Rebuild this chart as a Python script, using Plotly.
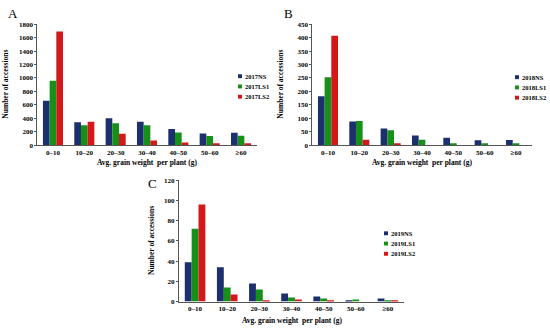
import plotly.graph_objects as go

categories = ["0–10", "10–20", "20–30", "30–40", "40–50", "50–60", "≥60"]

a_names = ["2017NS", "2017LS1", "2017LS2"]
a_ns = [660, 340, 400, 350, 240, 175, 185]
a_ls1 = [960, 295, 325, 295, 190, 135, 140]
a_ls2 = [1690, 350, 170, 70, 40, 15, 20]

b_names = ["2018NS", "2018LS1", "2018LS2"]
b_ns = [182, 88, 62, 36, 28, 18, 19]
b_ls1 = [253, 90, 56, 20, 5, 5, 5]
b_ls2 = [407, 20, 4, 0, 0, 0, 0]

c_names = ["2019NS", "2019LS1", "2019LS2"]
c_ns = [39, 34, 18, 8, 5, 1, 3]
c_ls1 = [72, 14, 12, 4, 3, 2, 1]
c_ls2 = [96, 7, 1, 2, 1, 0, 1]

colors = ["#1c2f6e", "#17901a", "#d21818"]
FONT = "Liberation Serif"
W, H = 550, 330

fig = go.Figure()

panels = [
    dict(names=a_names, data=[a_ns, a_ls1, a_ls2], x="x", y="y",
         px=(37.3, 256.7), py=(20.7, 144.7), yr=[0, 1800], dt=200,
         label="A", lab=(13, 10), leg=(240, 74), ytitle_x=6, xtitle_y=162),
    dict(names=b_names, data=[b_ns, b_ls1, b_ls2], x="x2", y="y2",
         px=(312.3, 531.7), py=(20.7, 144.7), yr=[0, 450], dt=50,
         label="B", lab=(288, 10), leg=(517, 75), ytitle_x=281, xtitle_y=162),
    dict(names=c_names, data=[c_ns, c_ls1, c_ls2], x="x3", y="y3",
         px=(179, 404), py=(180.7, 305), yr=[0, 120], dt=20,
         label="C", lab=(152, 184), leg=(386, 235), ytitle_x=152, xtitle_y=324),
]

layout = dict(
    width=W, height=H, margin=dict(l=0, r=0, t=0, b=0),
    paper_bgcolor="white", plot_bgcolor="white",
    barmode="group", bargap=0.36, bargroupgap=0,
    showlegend=False, font=dict(family=FONT, size=7, color="black"),
)
annotations = []
shapes = []
for i, p in enumerate(panels):
    for k in range(3):
        fig.add_trace(go.Bar(x=categories, y=p["data"][k], name=p["names"][k],
                             marker=dict(color=colors[k], line=dict(width=0)),
                             xaxis=p["x"], yaxis=p["y"]))
    suffix = "" if i == 0 else str(i + 1)
    xd = [p["px"][0] / W, p["px"][1] / W]
    yd = [1 - p["py"][1] / H, 1 - p["py"][0] / H]
    layout["xaxis" + suffix] = dict(
        domain=xd, anchor=p["y"], showline=True, linecolor="#555", linewidth=1,
        ticks="", tickcolor="#555",
        tickfont=dict(family=FONT, size=7, color="black"),
        tickprefix="<b>", ticksuffix="</b>", fixedrange=True,
    )
    layout["yaxis" + suffix] = dict(
        domain=yd, anchor=p["x"], range=p["yr"], dtick=p["dt"],
        showline=True, linecolor="#555", linewidth=1, showgrid=False,
        ticks="outside", ticklen=2, tickcolor="#555", zeroline=False,
        tickfont=dict(family=FONT, size=7, color="black"),
        tickprefix="<b>", ticksuffix="</b>",
    )
    # x title
    annotations.append(dict(
        text="<b>Avg. grain weight  per plant (g)</b>",
        x=(p["px"][0] + p["px"][1]) / 2 / W, y=1 - p["xtitle_y"] / H,
        xref="paper", yref="paper", showarrow=False,
        font=dict(family=FONT, size=7.5), xanchor="center", yanchor="middle"))
    # y title
    annotations.append(dict(
        text="<b>Number of accessions</b>", x=p["ytitle_x"] / W,
        y=1 - (p["py"][0] + p["py"][1]) / 2 / H, xref="paper", yref="paper",
        textangle=-90, showarrow=False, font=dict(family=FONT, size=7.5),
        xanchor="center", yanchor="middle"))
    # panel label
    annotations.append(dict(
        text=p["label"], x=p["lab"][0] / W, y=1 - p["lab"][1] / H,
        xref="paper", yref="paper", showarrow=False,
        font=dict(family=FONT, size=13), xanchor="center", yanchor="middle"))
    # legend
    for k in range(3):
        cx = p["leg"][0]
        cy = p["leg"][1] + 10.5 * k
        shapes.append(dict(type="rect", xref="paper", yref="paper",
                           x0=(cx - 2) / W, x1=(cx + 2) / W,
                           y0=1 - (cy + 2) / H, y1=1 - (cy - 2) / H,
                           fillcolor=colors[k], line=dict(width=0)))
        annotations.append(dict(
            text=f"<b>{p['names'][k]}</b>",
            x=(cx + 2.5) / W, y=1 - cy / H,
            xref="paper", yref="paper", showarrow=False,
            font=dict(family=FONT, size=6.5), xanchor="left", yanchor="middle"))

layout["annotations"] = annotations
layout["shapes"] = shapes
fig.update_layout(**layout)
fig.write_html("out.html", config={"displayModeBar": False},
               post_script="document.body.style.margin='0';document.body.style.overflow='hidden';")
